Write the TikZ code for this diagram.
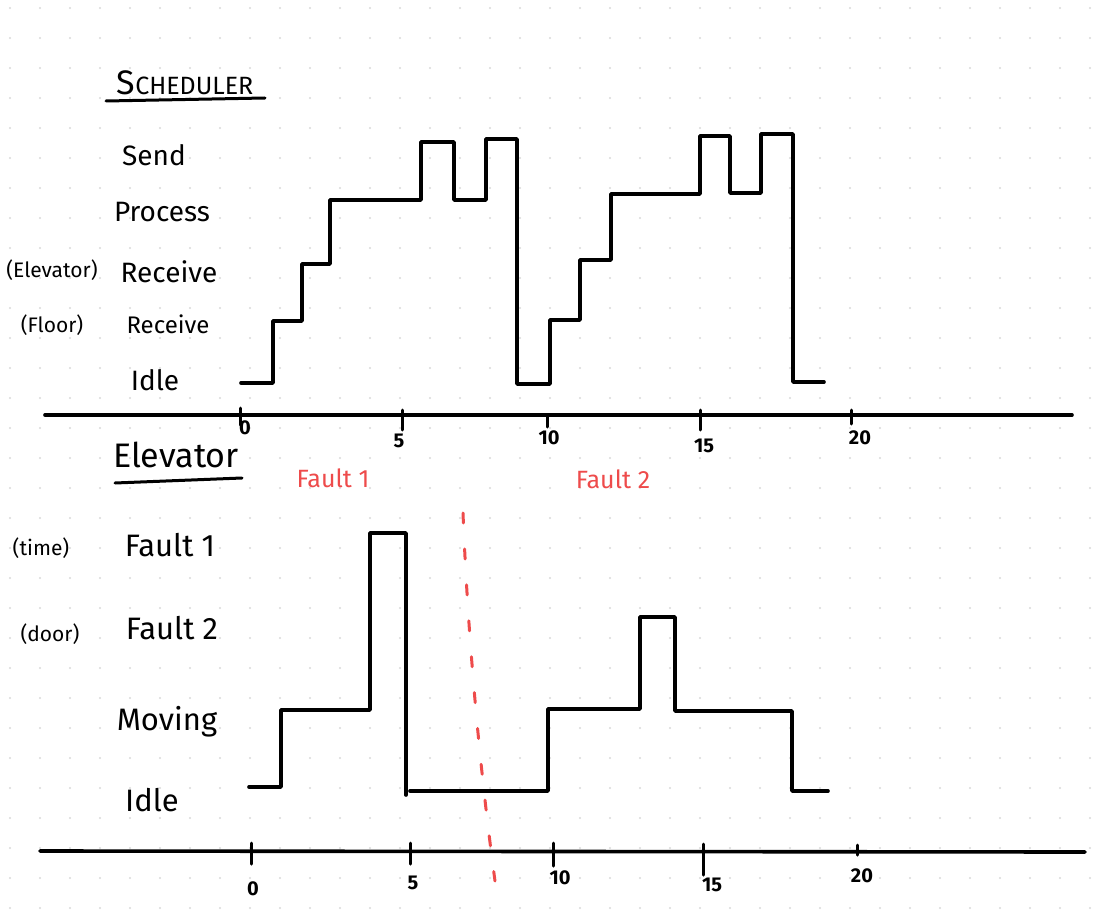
\documentclass[tikz,border=0pt]{standalone}
\usepackage{fontspec}
\setmainfont{Fira Sans}
\definecolor{faultred}{HTML}{EE4B4B}
\begin{document}
\begin{tikzpicture}[x=1pt,y=-1pt,
  wave/.style={line width=3.6pt, line join=round, line cap=round},
  axis/.style={line width=3.6pt, line cap=round},
  tickmark/.style={line width=3pt, line cap=round},
  lbl/.style={font=\fontsize{28}{30}\selectfont, inner sep=0pt},
  elbl/.style={font=\fontsize{31}{33}\selectfont, inner sep=0pt},
  paren/.style={font=\fontsize{21}{23}\selectfont, inner sep=0pt},
  num/.style={font=\fontsize{20}{22}\selectfont\bfseries, inner sep=0pt},
  redlbl/.style={font=\fontsize{25}{27}\selectfont, text=faultred, inner sep=0pt},
  title/.style={inner sep=0pt},
  uline/.style={line width=3pt, line cap=round}
]
\useasboundingbox (0,0) rectangle (1111,923);
\fill[white] (0,0) rectangle (1111,923);
\foreach \i in {0,...,36}{
  \foreach \j in {0,...,30}{
    \fill[gray!30] (10+30*\i, 8+30*\j) circle (1.1);
  }
}

% ---------- Scheduler ----------
\node[title, anchor=base] (sched) at (185,95) {{\fontsize{34}{36}\selectfont S}{\fontsize{25}{27}\selectfont CHEDULER}};
\coordinate (su1) at (106,101);
\coordinate (su2) at (265,98);
\draw[uline] (su1) -- (su2);

\node[lbl] (send) at (154,155) {Send};
\node[lbl] (process) at (162,212) {Process};
\node[paren] (elev) at (52,270) {(Elevator)};
\node[lbl] (recv1) at (169,272) {Receive};
\node[paren] (floor) at (52,325) {(Floor)};
\node[lbl, font=\fontsize{24}{26}\selectfont] (recv2) at (168,324) {Receive};
\node[lbl] (idle1) at (155,380) {Idle};

\draw[wave] (241,383) -- (273,383) -- (273,321) -- (302,321) -- (302,264)
  -- (330,264) -- (330,200) -- (421,200) -- (421,142) -- (454,142) -- (454,200)
  -- (486,200) -- (486,139) -- (517,139) -- (517,384) -- (550,384) -- (550,320)
  -- (580,320) -- (580,260) -- (611,260) -- (611,194) -- (700,194) -- (700,136)
  -- (730,136) -- (730,193) -- (761,193) -- (761,134) -- (793,134) -- (793,382)
  -- (824,382);

\coordinate (ta1) at (45,415);
\coordinate (ta2) at (1072,415);
\draw[axis] (ta1) -- (ta2);
\foreach \x/\b/\e in {240/408/425, 402/410/430, 547/417/427, 700/410/430, 851/410/424}{
  \draw[tickmark] (\x,\b) -- (\x,\e);
}
\node[num] (t0) at (245,428) {0};
\node[num] (t5) at (399,441) {5};
\node[num] (t10) at (549,438) {10};
\node[num] (t15) at (704,446) {15};
\node[num] (t20) at (860,438) {20};

% ---------- Elevator ----------
\node[title, font=\fontsize{34}{36}\selectfont] (elevtitle) at (176,455) {Elevator};
\coordinate (eu1) at (115,483);
\coordinate (eu2) at (242,478);
\draw[uline] (eu1) -- (eu2);

\node[redlbl] (rf1) at (333,478) {Fault 1};
\node[redlbl] (rf2) at (613,479) {Fault 2};

\node[paren] (time) at (41,548) {(time)};
\node[elbl] (fault1) at (170,545) {Fault 1};
\node[paren] (door) at (50,634) {(door)};
\node[elbl] (fault2) at (172,628) {Fault 2};
\node[elbl] (moving) at (167,722) {Moving};
\node[elbl] (idle2) at (152,800) {Idle};

\draw[wave] (249,787) -- (281,787) -- (281,710) -- (370,710) -- (370,533)
  -- (406,533) -- (406,795);
\draw[wave] (410,791) -- (548,791) -- (548,709) -- (640,709) -- (640,617)
  -- (675,617) -- (675,711) -- (792,711) -- (792,791) -- (828,791);

\coordinate (ba1) at (40,851);
\coordinate (ba2) at (1085,852);
\draw[axis] (ba1) -- (ba2);
\foreach \x/\b/\e in {251/843/864, 410/843/864, 553/843/866, 703/844/875, 857/845/855}{
  \draw[tickmark] (\x,\b) -- (\x,\e);
}
\node[num] (b0) at (253,889) {0};
\node[num] (b5) at (413,883) {5};
\node[num] (b10) at (560,878) {10};
\node[num] (b15) at (712,885) {15};
\node[num] (b20) at (862,876) {20};

% red fault divider
\coordinate (rd1) at (463,513);
\coordinate (rd2) at (495,881);
\draw[faultred, line width=3pt, line cap=round, dash pattern=on 10pt off 26pt]
  (rd1) .. controls (468,640) and (480,770) .. (rd2);
\end{tikzpicture}
\end{document}
